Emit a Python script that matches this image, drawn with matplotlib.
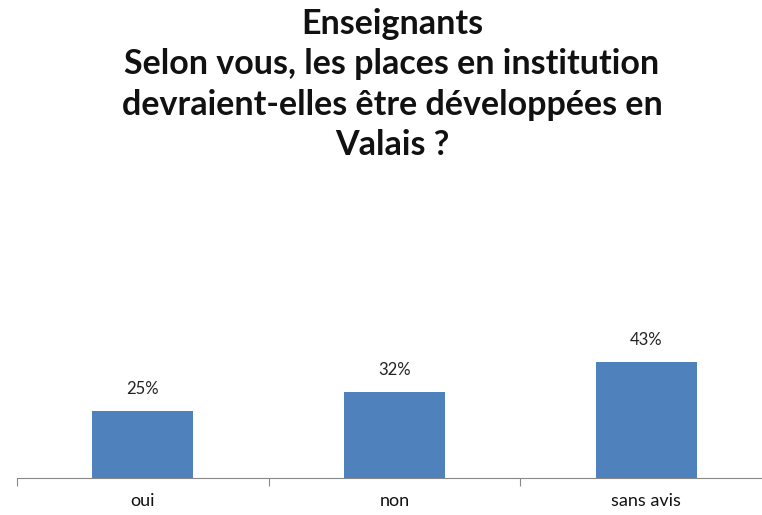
"""Enseignants - places en institution, bar chart."""

import matplotlib
matplotlib.use("Agg")
import matplotlib.pyplot as plt

categories = ["oui", "non", "sans avis"]
values = [25, 32, 43]
value_labels = ["25%", "32%", "43%"]

title = ("Enseignants\nSelon vous, les places en institution\n"
         "devraient-elles être développées en\nValais ?")

W, H = 762, 515
fig = plt.figure(figsize=(W / 100, H / 100), dpi=100)

# axes: x from 17 to 772 px (runs slightly off the canvas), baseline at y=478
base_px = 478
top_px = 300
px_per_unit = 116 / 43
ax = fig.add_axes([17 / W, (H - base_px) / H, 755 / W, (base_px - top_px) / H])
ax.set_xlim(-0.5, 2.5)
ax.set_ylim(0, (base_px - top_px) / px_per_unit)

x = range(len(categories))
ax.bar(x, values, width=0.4, color="#4F81BD")
for xi, v, lab in zip(x, values, value_labels):
    ax.annotate(lab, (xi, v), xytext=(0, 10), textcoords="offset points",
                ha="center", va="bottom", fontsize=12, color="#222222",
                family="Lato")

for s in ["top", "right", "left"]:
    ax.spines[s].set_visible(False)
ax.spines["bottom"].set_color("#888888")
ax.set_yticks([])
ax.set_xticks([-0.5, 0.5, 1.5, 2.5])
ax.set_xticklabels([])
ax.tick_params(axis="x", length=6, color="#888888", direction="out")
for xi, c in zip(x, categories):
    ax.text(xi, -0.085, c, transform=ax.get_xaxis_transform(), ha="center",
            va="top", fontsize=13, family="Lato", color="#111111")

fig.text(392 / W, 1 - 8 / H, title, ha="center", va="top", fontsize=24.5,
         fontweight="bold", family="Lato", linespacing=1.32, color="#111111")

fig.savefig("out.png", dpi=100)
